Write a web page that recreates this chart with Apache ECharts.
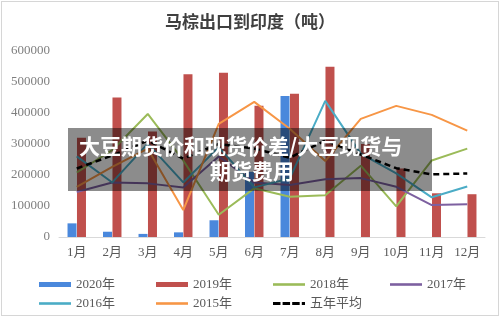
<!DOCTYPE html>
<html>
<head>
<meta charset="utf-8">
<script src="https://cdn.jsdelivr.net/npm/echarts@6/dist/echarts.min.js"></script>
<style>
	html, body { margin: 0; padding: 0; background: #fff; }
	#main { width: 496px; height: 313px; margin: 1px; border: 1px solid #d6d6d6; }
</style>
</head>
<body>
<div id="main"></div>
<script>
const months = ["1月", "2月", "3月", "4月", "5月", "6月", "7月", "8月", "9月", "10月", "11月", "12月"]
const y2020 = [44000, 17000, 10000, 15000, 54000, 210000, 455000, null, null, null, null, null]
const y2019 = [320000, 450000, 340000, 525000, 530000, 423000, 462000, 549000, 300000, 221000, 141000, 138000]
const y2018 = [208000, 280000, 397000, 247000, 72000, 157000, 130000, 135000, 230000, 99000, 247000, 285000]
const y2017 = [145000, 176000, 173000, 160000, 260000, 176000, 168000, 186000, 190000, 162000, 103000, 106000]
const y2016 = [260000, 176000, 301000, 176000, 290000, 160000, 189000, 439000, 269000, 205000, 128000, 163000]
const y2015 = [162000, 226000, 285000, 87000, 365000, 436000, 349000, 245000, 381000, 423000, 394000, 343000]
const avg5 = [221000, 263000, 311000, 253000, 300000, 285000, 256000, 311000, 266000, 222000, 202000, 205000]
const yTicks = [0, 100000, 200000, 300000, 400000, 500000, 600000]

const serif = "'Liberation Serif', 'Noto Sans CJK SC', serif"
const cjk = "'Noto Sans CJK SC', sans-serif"

const barIcon = "path://M0,0H32V5H0Z"
const lineIcon = "path://M0,1.2H32V3.8H0Z"
const dashIcon = "path://M0,1H7V4H0ZM9,1H16V4H9ZM18,1H25V4H18ZM27,1H30V4H27Z"

const lineItem = (name, data, color, dashed) => ({
	name,
	data,
	type: "line",
	symbol: "none",
	z: 3,
	lineStyle: {
		color,
		width: dashed ? 2.5 : 2,
		type: dashed ? [6, 4] : "solid",
	},
	itemStyle: { color },
})

// one legend per entry so the grid of entries matches the original
const legendItem = (name, icon, col, row) => ({
	left: 32 + col * 117,
	top: 271 + row * 19,
	itemWidth: 32,
	itemHeight: 5,
	itemGap: 0,
	textStyle: { fontFamily: serif, fontSize: 13, color: "#595959" },
	data: [{ name, icon }],
})

const chart = echarts.init(document.getElementById("main"))
chart.setOption({
	animation: false,
	title: {
		text: "马棕出口到印度（吨）",
		left: "center",
		top: 6,
		textStyle: { fontFamily: cjk, fontSize: 17, fontWeight: "bold", color: "#404040" },
	},
	grid: { left: 57, right: 13, top: 49, bottom: 78 },
	legend: [
		legendItem("2020年", barIcon, 0, 0),
		legendItem("2019年", barIcon, 1, 0),
		legendItem("2018年", lineIcon, 2, 0),
		legendItem("2017年", lineIcon, 3, 0),
		legendItem("2016年", lineIcon, 0, 1),
		legendItem("2015年", lineIcon, 1, 1),
		legendItem("五年平均", dashIcon, 2, 1),
	],
	xAxis: {
		type: "category",
		data: months,
		axisLine: { lineStyle: { color: "#d9d9d9" } },
		axisTick: { show: false },
		axisLabel: { fontFamily: serif, fontSize: 13, color: "#595959", margin: 9 },
	},
	yAxis: {
		type: "value",
		min: yTicks[0],
		max: yTicks[yTicks.length - 1],
		interval: 100000,
		splitLine: { show: false },
		axisLabel: { fontFamily: serif, fontSize: 13, color: "#7f7f7f", margin: 9, formatter: v => String(v) },
	},
	series: [
		{ name: "2020年", type: "bar", data: y2020, barWidth: 9, barGap: "5%", itemStyle: { color: "#4a88dc" } },
		{ name: "2019年", type: "bar", data: y2019, barWidth: 9, barGap: "5%", itemStyle: { color: "#c0504d" } },
		lineItem("2018年", y2018, "#9bbb59"),
		lineItem("2017年", y2017, "#7d60a0"),
		lineItem("2016年", y2016, "#4bacc6"),
		lineItem("2015年", y2015, "#f79646"),
		lineItem("五年平均", avg5, "#000", true),
	],
	graphic: [
		{
			type: "rect",
			z: 100,
			shape: { x: 66, y: 126, width: 364, height: 63 },
			style: { fill: "rgba(0,0,0,0.45)" },
		},
		{
			type: "text",
			z: 101,
			x: 77,
			y: 134,
			style: { text: "大豆期货价和现货价差/大豆现货与", fill: "#fff", font: "bold 21px " + cjk },
		},
		{
			type: "text",
			z: 101,
			x: 250,
			y: 159,
			style: { text: "期货费用", fill: "#fff", font: "bold 21px " + cjk, align: "center" },
		},
	],
})
</script>
</body>
</html>
